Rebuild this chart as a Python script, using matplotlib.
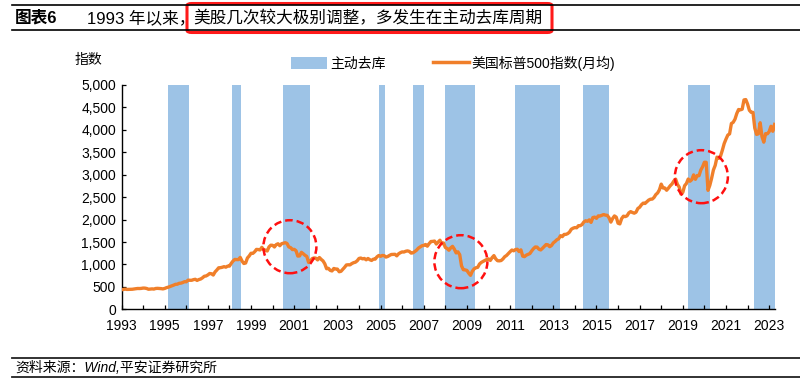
import matplotlib
matplotlib.use("Agg")
import matplotlib.pyplot as plt
from matplotlib.patches import Ellipse, FancyBboxPatch, Patch
from matplotlib.lines import Line2D
from matplotlib.ticker import FuncFormatter, MultipleLocator
import numpy as np

plt.rcParams["font.family"] = ["Liberation Sans", "Noto Sans CJK SC", "DejaVu Sans"]

# S&P 500 monthly average, Jan 1993 .. Apr 2023
start_year = 1993
spx = [
    435, 442, 450, 443, 445, 448, 447, 454, 459, 464, 463, 466,
    473, 472, 464, 447, 451, 455, 451, 464, 467, 464, 461, 455,
    465, 482, 493, 508, 524, 539, 557, 559, 579, 583, 596, 615,
    614, 650, 647, 647, 661, 669, 644, 663, 675, 701, 736, 743,
    766, 798, 792, 764, 833, 876, 925, 928, 937, 951, 939, 962,
    963, 1024, 1077, 1112, 1108, 1108, 1157, 1075, 1021, 1032, 1144, 1190,
    1249, 1247, 1282, 1335, 1332, 1323, 1381, 1327, 1318, 1300, 1391, 1429,
    1426, 1389, 1442, 1461, 1418, 1462, 1473, 1485, 1468, 1390, 1375, 1331,
    1336, 1306, 1186, 1190, 1270, 1239, 1204, 1179, 1045, 1077, 1130, 1145,
    1140, 1101, 1154, 1112, 1079, 1014, 904, 913, 868, 855, 910, 899,
    896, 837, 847, 890, 936, 988, 993, 990, 1019, 1039, 1050, 1081,
    1133, 1143, 1124, 1133, 1103, 1133, 1106, 1089, 1118, 1118, 1169, 1199,
    1181, 1200, 1195, 1164, 1178, 1202, 1222, 1224, 1226, 1192, 1237, 1262,
    1279, 1277, 1294, 1302, 1290, 1253, 1260, 1287, 1318, 1363, 1389, 1416,
    1424, 1445, 1407, 1464, 1511, 1514, 1521, 1455, 1497, 1540, 1463, 1479,
    1379, 1355, 1317, 1370, 1403, 1341, 1257, 1281, 1217, 969, 883, 878,
    866, 805, 757, 848, 902, 926, 936, 1010, 1045, 1068, 1088, 1110,
    1124, 1089, 1152, 1197, 1125, 1083, 1080, 1087, 1122, 1172, 1199, 1242,
    1283, 1321, 1304, 1332, 1338, 1287, 1325, 1185, 1174, 1207, 1226, 1243,
    1301, 1352, 1389, 1386, 1341, 1323, 1360, 1403, 1443, 1438, 1395, 1422,
    1480, 1512, 1551, 1571, 1640, 1619, 1669, 1670, 1687, 1720, 1784, 1808,
    1822, 1817, 1864, 1864, 1890, 1947, 1973, 1962, 1993, 1937, 2045, 2054,
    2028, 2082, 2080, 2095, 2112, 2099, 2094, 2040, 1944, 2025, 2081, 2054,
    1919, 1904, 2022, 2076, 2066, 2084, 2149, 2177, 2158, 2143, 2165, 2247,
    2275, 2330, 2367, 2359, 2395, 2434, 2454, 2456, 2493, 2557, 2594, 2664,
    2790, 2705, 2703, 2654, 2701, 2754, 2794, 2858, 2902, 2785, 2723, 2567,
    2607, 2755, 2804, 2904, 2855, 2890, 2996, 2898, 2982, 2978, 3105, 3177,
    3278, 3277, 2652, 2762, 2920, 3105, 3208, 3392, 3366, 3419, 3549, 3695,
    3794, 3883, 3911, 4141, 4168, 4238, 4364, 4454, 4446, 4461, 4667, 4675,
    4574, 4436, 4391, 4391, 4040, 3899, 3912, 4159, 3851, 3726, 3917, 3912,
    3961, 4080, 3969, 4121,
]

# active destocking periods (year fractions)
band_start = [1995.17, 1998.10, 2000.49, 2004.92, 2006.50, 2007.98, 2011.25, 2014.38, 2019.24, 2022.30]
band_end = [1996.12, 1998.53, 2001.73, 2005.19, 2007.00, 2009.37, 2013.30, 2015.58, 2020.28, 2023.30]

# red dashed highlight circles: (year, index level)
circle_x = [2000.80, 2008.72, 2019.86]
circle_y = [1395, 1061, 2956]

x_tick_years = list(range(1993, 2024, 2))
y_ticks = list(range(0, 5001, 500))

blue = "#9DC3E6"
orange = "#F07F2A"

W, H = 800, 384
fig = plt.figure(figsize=(W / 100, H / 100), dpi=100)
ax = fig.add_axes([121.5 / W, 1 - 309.3 / H, (775 - 121.5) / W, (309.3 - 85) / H])

x = start_year + np.arange(len(spx)) / 12.0
for s, e in zip(band_start, band_end):
    ax.axvspan(s, e, color=blue, lw=0, zorder=1)
ax.plot(x, spx, color=orange, lw=2.4, zorder=3, solid_joinstyle="round")

px_per_year = (775 - 121.5) / 30.27
px_per_val = (309.3 - 85) / 5000
for cx, cy in zip(circle_x, circle_y):
    ax.add_patch(Ellipse((cx, cy), 53 / px_per_year, 53 / px_per_val, fill=False,
                         edgecolor="#FF1010", lw=1.8, linestyle=(0, (3, 1.6)), zorder=4))

ax.set_xlim(1993, 2023.27)
ax.set_ylim(0, 5000)
ax.set_yticks(y_ticks)
ax.yaxis.set_major_formatter(FuncFormatter(lambda v, p: f"{int(v):,}"))
ax.set_xticks(x_tick_years)
ax.set_xticklabels([str(y) for y in x_tick_years])
ax.xaxis.set_minor_locator(MultipleLocator(1))
ax.tick_params(axis="both", which="both", direction="in", length=3, width=0.9,
               labelsize=10, colors="black")
ax.tick_params(axis="x", pad=7)
ax.tick_params(axis="y", pad=4)
for side in ["top", "right"]:
    ax.spines[side].set_visible(False)
for side in ["left", "bottom"]:
    ax.spines[side].set_linewidth(1.0)
    ax.spines[side].set_color("black")

# axis unit label
fig.text(75 / W, 1 - 60 / H, "指数", fontsize=10, va="center", ha="left")

# legend
handles = [Patch(facecolor=blue, edgecolor="none"),
           Line2D([0], [0], color=orange, lw=2.5)]
fig.legend(handles, ["主动去库", "美国标普500指数(月均)"], loc="center",
           bbox_to_anchor=(453 / W, 1 - 63 / H), ncol=2, frameon=False, fontsize=10,
           handlelength=2.6, handleheight=1.0, handletextpad=0.2, columnspacing=3.4)

# title block
fig.add_artist(Line2D([12 / W, 1], [1 - 5 / H] * 2, color="black", lw=1.2))
fig.add_artist(Line2D([12 / W, 1], [1 - 29.5 / H] * 2, color="black", lw=1.2))
fig.text(15 / W, 1 - 18 / H, "图表6", fontsize=12, fontweight="bold", va="center")
fig.text(87 / W, 1 - 18 / H, "1993 年以来，", fontsize=12, va="center")
fig.text(193 / W, 1 - 18 / H, "美股几次较大极别调整，多发生在主动去库周期", fontsize=12, va="center")
fig.add_artist(FancyBboxPatch((187 / W, 1 - 32.5 / H), (552 - 187) / W, 29 / H,
                              boxstyle="round,pad=0,rounding_size=0.006",
                              transform=fig.transFigure, fill=False,
                              edgecolor="#FF1A1A", lw=2.2))

# source block
fig.add_artist(Line2D([12 / W, 1], [1 - 357.7 / H] * 2, color="#222222", lw=1.3))
fig.add_artist(Line2D([12 / W, 1], [1 - 377 / H] * 2, color="#222222", lw=1.3))
fig.text(15 / W, 1 - 367.5 / H, "资料来源：Wind,平安证券研究所", fontsize=10,
         style="italic", va="center")

fig.savefig("out.png", dpi=100)
